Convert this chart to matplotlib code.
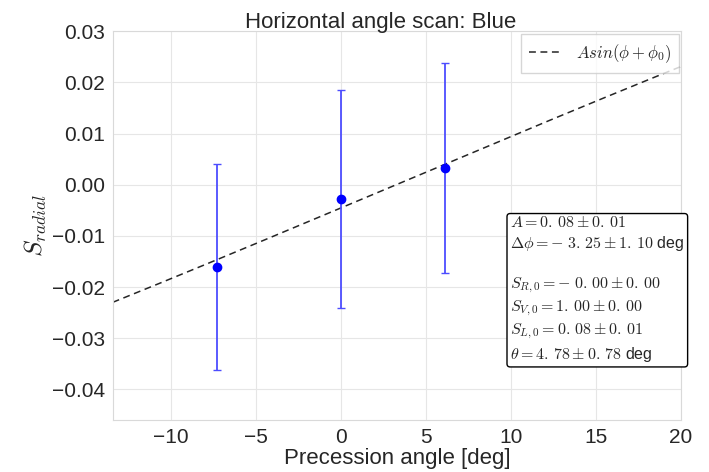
import numpy as np
import matplotlib
matplotlib.use('Agg')
import matplotlib.pyplot as plt
import seaborn as sns

# measured points
angle = [-7.3, 0.0, 6.1]
s_radial = [-0.0161, -0.0028, 0.0032]
s_err = [0.0202, 0.0213, 0.0205]

# fit result A*sin(phi + phi0)
amp = 0.08
phi0 = -3.25  # deg
x_range = (-13.45, 20.05)

fit_lines = [
    r'$A = 0.\,08 \pm 0.\,01$',
    r'$\Delta\phi = -\;3.\,25 \pm 1.\,10$ deg',
    '',
    r'$S_{R,0} = -\;0.\,00 \pm 0.\,00$',
    r'$S_{V,0} = 1.\,00 \pm 0.\,00$',
    r'$S_{L,0} = 0.\,08 \pm 0.\,01$',
    r'$\theta = 4.\,78 \pm 0.\,78$ deg',
]

sns.set_style('whitegrid', {'grid.color': '0.9', 'axes.edgecolor': '0.85'})
plt.rcParams['font.family'] = ['Liberation Sans', 'DejaVu Sans']
plt.rcParams['mathtext.fontset'] = 'cm'

fig = plt.figure(figsize=(7.09, 4.72), dpi=100)
ax = fig.add_axes([0.159, 0.110, 0.802, 0.824])

phi = np.linspace(x_range[0], x_range[1], 200)
ax.plot(phi, amp * np.sin(np.radians(phi + phi0)), color='black',
        lw=1.1, ls=(0, (4.5, 3)), alpha=0.85, label=r'$Asin(\phi + \phi_0)$')

ax.errorbar(angle, s_radial, yerr=s_err, fmt='o', color='blue', ms=6,
            ecolor=(0.3, 0.3, 1.0), elinewidth=1.3, capsize=3, capthick=1)

ax.set_xlim(*x_range)
ax.set_ylim(-0.046, 0.03)
ax.set_xticks([-10, -5, 0, 5, 10, 15, 20])
ax.set_yticks([-0.04, -0.03, -0.02, -0.01, 0.0, 0.01, 0.02, 0.03])
ax.set_yticklabels(['%.2f' % v if v >= 0 else '\u22120.%02d' % round(-v * 100)
                    for v in ax.get_yticks()])
ax.tick_params(labelsize=15, colors='0.15', pad=2)

ax.set_title('Horizontal angle scan: Blue', fontsize=16, color='0.15',
             x=0.472, pad=2)
ax.set_xlabel('Precession angle [deg]', fontsize=16, color='0.15', labelpad=1)
ax.set_ylabel(r'$S_{radial}$', fontsize=18, color='0.15', labelpad=2)

leg = ax.legend(loc='upper right', frameon=True, fancybox=False, fontsize=12,
                handlelength=2.0, borderaxespad=0.15, borderpad=0.5)
leg.get_frame().set_edgecolor('0.8')

ax.text(0.699, 0.528, '\n'.join(fit_lines), transform=ax.transAxes,
        fontsize=11.5, va='top', ha='left', linespacing=1.3,
        bbox=dict(boxstyle='round,pad=0.2', fc='white', ec='black'))

fig.savefig('out.png', dpi=100)
